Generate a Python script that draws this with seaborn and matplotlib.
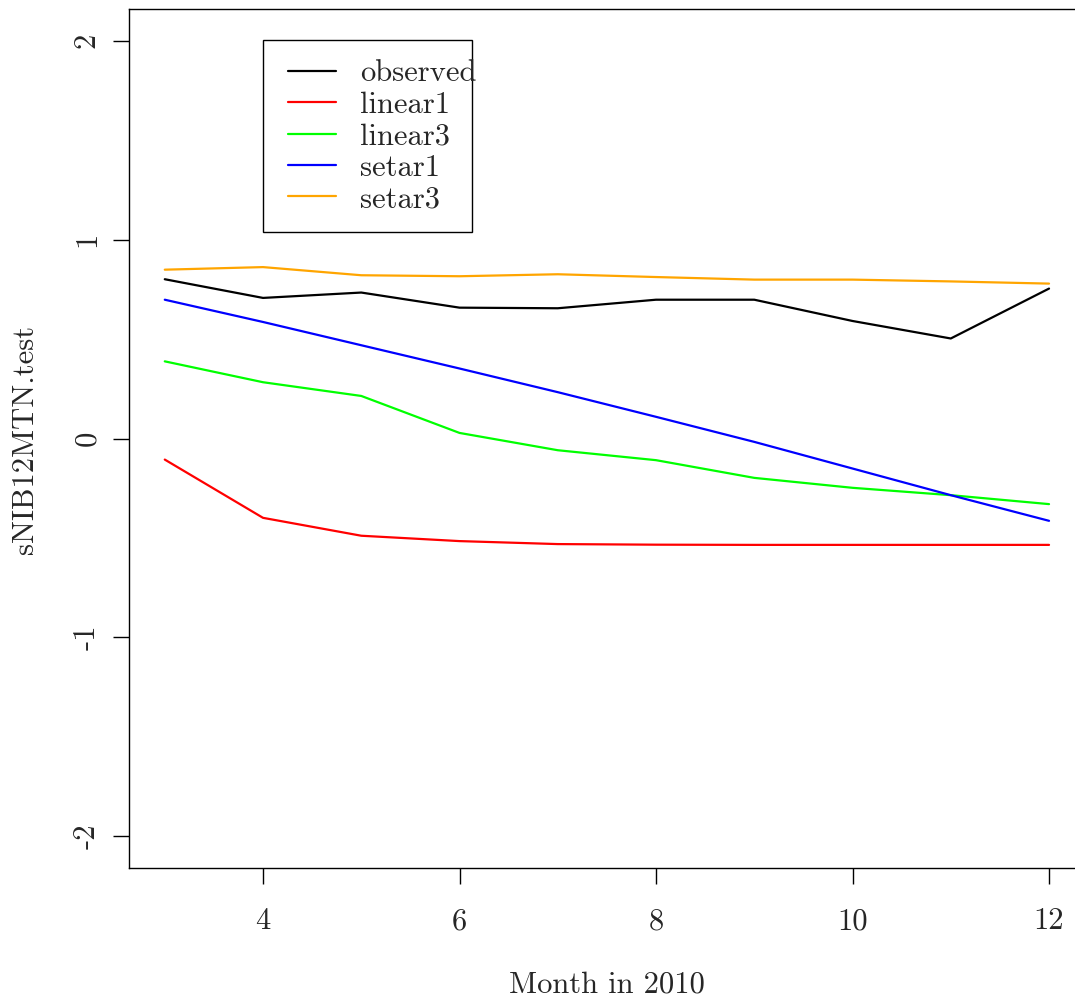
import numpy as np
import pandas as pd
import matplotlib
matplotlib.use("Agg")
import matplotlib.pyplot as plt
import matplotlib.patches as mpatches
import seaborn as sns

# Forecast comparison for 2010, months 3..12
months = [3, 4, 5, 6, 7, 8, 9, 10, 11, 12]
observed = [0.801, 0.707, 0.734, 0.658, 0.655, 0.698, 0.698, 0.591, 0.503, 0.754]
linear1 = [-0.106, -0.399, -0.489, -0.516, -0.531, -0.534, -0.535, -0.535, -0.535, -0.535]
linear3 = [0.388, 0.283, 0.214, 0.028, -0.059, -0.109, -0.198, -0.248, -0.285, -0.330]
setar1 = [0.698, 0.586, 0.469, 0.352, 0.233, 0.109, -0.017, -0.151, -0.285, -0.414]
setar3 = [0.849, 0.862, 0.821, 0.816, 0.826, 0.812, 0.799, 0.799, 0.790, 0.779]

series_names = ["observed", "linear1", "linear3", "setar1", "setar3"]
series_colors = ["black", "red", "#00ff00", "blue", "orange"]
x_ticks = [4, 6, 8, 10, 12]
y_ticks = [-2, -1, 0, 1, 2]
y_tick_labels = ["-2", "-1", "0", "1", "2"]

frames = []
for name, vals in zip(series_names, [observed, linear1, linear3, setar1, setar3]):
    frames.append(pd.DataFrame({"month": months, "value": vals, "series": name}))
df = pd.concat(frames, ignore_index=True)

sns.set_theme(style="white")
plt.rcParams["font.family"] = ["cmr10", "DejaVu Serif"]
plt.rcParams["axes.unicode_minus"] = False
plt.rcParams["axes.formatter.use_mathtext"] = True

W, H = 1075, 998
fig = plt.figure(figsize=(W / 100, H / 100), dpi=100)
left, right, bottom, top = 129.4, 1084.4, 868, 9
ax = fig.add_axes([left / W, 1 - bottom / H, (right - left) / W, (bottom - top) / H])

sns.lineplot(data=df, x="month", y="value", hue="series", hue_order=series_names,
             palette=series_colors, linewidth=1.6, ax=ax, legend=False)

ax.set_xlim(2.64, 12.36)
ax.set_ylim(-2.16, 2.16)
ax.set_xticks(x_ticks)
ax.set_xticklabels([str(t) for t in x_ticks], fontsize=22)
ax.set_yticks(y_ticks)
ax.set_yticklabels(y_tick_labels, fontsize=22, rotation=90, va="center")
ax.tick_params(axis="x", bottom=True, direction="out", length=11.5, width=1,
               pad=17, color="black")
ax.tick_params(axis="y", left=True, direction="out", length=11.5, width=1,
               pad=9, color="black")
ax.set_xlabel("")
ax.set_ylabel("")
for s in ax.spines.values():
    s.set_color("black")
    s.set_linewidth(1.0)

fig.text(607 / W, 1 - 985 / H, "Month in 2010", ha="center", va="center", fontsize=22)
fig.text(25 / W, 1 - 439 / H, "sNIB12MTN.test", ha="center", va="center",
         rotation=90, fontsize=22)

# Legend entries (unframed) with a fixed box drawn around them
handles = [plt.Line2D([], [], color=c, linewidth=1.6) for c in series_colors]
leg = ax.legend(handles, series_names, loc="upper left",
                bbox_to_anchor=(288 / W, 1 - 60 / H), bbox_transform=fig.transFigure,
                fontsize=22, frameon=False,
                handlelength=1.57, handletextpad=0.78, labelspacing=0.13,
                borderpad=0, borderaxespad=0)
box = mpatches.Rectangle((263 / W, 1 - 232 / H), (472 - 263) / W, (232 - 40) / H,
                         transform=fig.transFigure, fill=False, edgecolor="black",
                         linewidth=1.0, clip_on=False)
ax.add_patch(box)

fig.savefig("out.png", dpi=100)
